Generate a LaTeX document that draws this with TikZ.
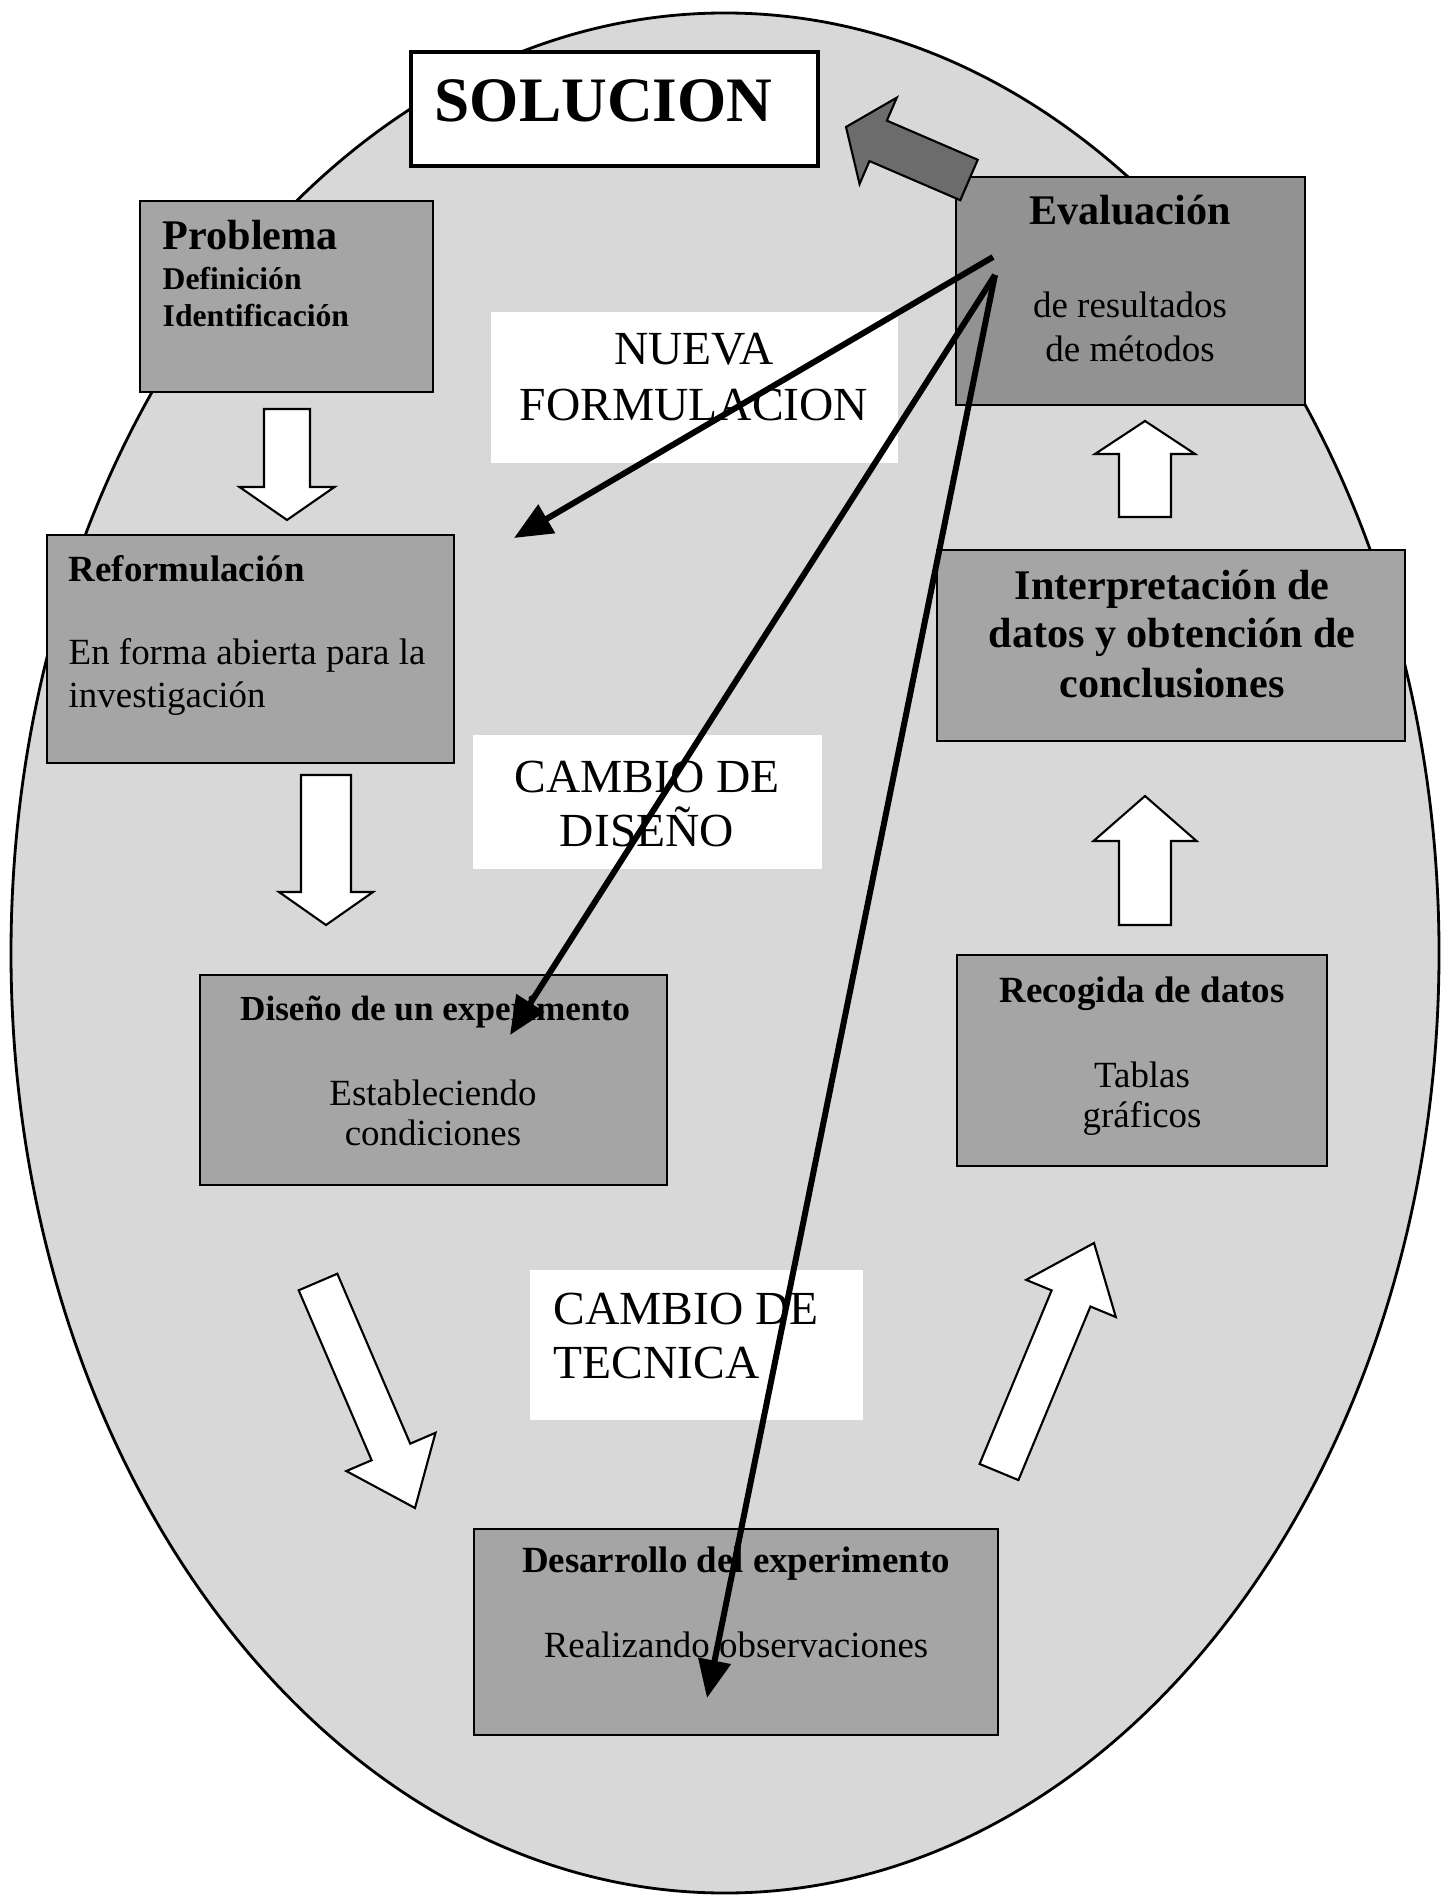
\documentclass[tikz,border=0pt]{standalone}
\usepackage{fontspec}
\setmainfont{Liberation Serif}
\usepackage{tikz}
\usetikzlibrary{arrows.meta, calc, positioning}
\definecolor{ovalgrey}{RGB}{216,216,216}
\definecolor{boxgrey}{RGB}{165,165,165}
\definecolor{evalgrey}{RGB}{146,146,146}
\definecolor{soldark}{RGB}{108,108,108}
\tikzset{
  stage/.style={rectangle, draw=black, fill=boxgrey, line width=0.6pt, inner sep=0pt},
  tag/.style={rectangle, fill=white, inner sep=0pt},
  ttl/.style={inner sep=0pt, anchor=base, font=\fontsize{10.5}{12}\selectfont\bfseries},
  bigttl/.style={inner sep=0pt, anchor=base, font=\fontsize{12}{14}\selectfont\bfseries},
  txt/.style={inner sep=0pt, anchor=base, font=\fontsize{10.5}{12}\selectfont},
  tagtxt/.style={inner sep=0pt, anchor=base, font=\fontsize{13.5}{16}\selectfont},
  fat/.style={draw=black, fill=white, line width=0.6pt, line join=miter},
  back/.style={-{Triangle[length=3.8mm,width=3.2mm]}, line width=1.7pt}
}
% block arrow: style, tail, tip, half shaft, half head, head length
\newcommand{\fatarrow}[6]{%
  \draw[#1] ($(#2)!#4!90:(#3)$) -- ($(#3)!#6!(#2)!#4!90:(#3)$)
    -- ($(#3)!#6!(#2)!#5!90:(#3)$) -- (#3)
    -- ($(#3)!#6!(#2)!#5!-90:(#3)$) -- ($(#3)!#6!(#2)!#4!-90:(#3)$)
    -- ($(#2)!#4!-90:(#3)$) -- cycle;}

\begin{document}
\begin{tikzpicture}[x=0.01cm, y=-0.01cm]
  \useasboundingbox (0,0) rectangle (1441,1895);
  % Oval
  \draw[fill=ovalgrey, line width=0.8pt] (725,953) ellipse [x radius=714, y radius=940];

  % White block arrows
  \coordinate (a1s) at (287,409);  \coordinate (a1e) at (287,520);
  \coordinate (a2s) at (326,775);  \coordinate (a2e) at (326,925);
  \coordinate (a3s) at (318,1282); \coordinate (a3e) at (415,1508);
  \coordinate (a4s) at (999,1472); \coordinate (a4e) at (1094,1243);
  \coordinate (a5s) at (1145,925); \coordinate (a5e) at (1145,796);
  \coordinate (a6s) at (1145,517); \coordinate (a6e) at (1145,421);
  \fatarrow{fat}{a1s}{a1e}{0.23cm}{0.475cm}{0.33cm}
  \fatarrow{fat}{a2s}{a2e}{0.25cm}{0.47cm}{0.33cm}
  \fatarrow{fat}{a3s}{a3e}{0.21cm}{0.485cm}{0.61cm}
  \fatarrow{fat}{a4s}{a4e}{0.21cm}{0.485cm}{0.6cm}
  \fatarrow{fat}{a5s}{a5e}{0.26cm}{0.515cm}{0.45cm}
  \fatarrow{fat}{a6s}{a6e}{0.26cm}{0.5cm}{0.33cm}

  % Stages
  \node (sol) at (614.5,109) [stage, fill=white, line width=1pt, minimum width=4.07cm, minimum height=1.14cm] {};
  \node (prob) at (286.5,296.5) [stage, minimum width=2.93cm, minimum height=1.91cm] {};
  \node (eval) at (1130.5,291) [stage, fill=evalgrey, minimum width=3.49cm, minimum height=2.28cm] {};
  \node (ref) at (250.5,649) [stage, minimum width=4.07cm, minimum height=2.28cm] {};
  \node (inter) at (1171,645.5) [stage, minimum width=4.68cm, minimum height=1.91cm] {};
  \node (dis) at (433.5,1080) [stage, minimum width=4.67cm, minimum height=2.1cm] {};
  \node (rec) at (1142,1060.5) [stage, minimum width=3.7cm, minimum height=2.11cm] {};
  \node (des) at (736,1632) [stage, minimum width=5.24cm, minimum height=2.06cm] {};

  % Labels of the loops
  \node (lnueva) at (694.5,387.5) [tag, minimum width=4.07cm, minimum height=1.51cm] {};
  \node (ldis) at (647.5,802) [tag, minimum width=3.49cm, minimum height=1.34cm] {};
  \node (ltec) at (696.5,1345) [tag, minimum width=3.33cm, minimum height=1.5cm] {};

  % Texts
  \node (solt) at (434,122) [anchor=base west, inner sep=0pt, font=\fontsize{18}{20}\selectfont\bfseries] {SOLUCION};
  \node (probt) at (162,250) [bigttl, anchor=base west] {Problema};
  \node (probd) at (162,290) [ttl, anchor=base west, font=\fontsize{9}{10.5}\selectfont\bfseries] {Definición};
  \node (probi) at (162,327) [ttl, anchor=base west, font=\fontsize{9}{10.5}\selectfont\bfseries] {Identificación};
  \node (evalt) at (1130,225) [bigttl] {Evaluación};
  \node (evalr) at (1130,318) [txt] {de resultados};
  \node (evalm) at (1130,362) [txt] {de métodos};
  \node (reft) at (68,582) [ttl, anchor=base west] {Reformulación};
  \node (refa) at (68,665) [txt, anchor=base west] {En forma abierta para la};
  \node (refi) at (68,708) [txt, anchor=base west] {investigación};
  \node (intera) at (1172,600) [bigttl] {Interpretación de};
  \node (interb) at (1172,648) [bigttl] {datos y obtención de};
  \node (interc) at (1172,697) [bigttl] {conclusiones};
  \node (dist) at (435,1020) [ttl, font=\fontsize{10}{12}\selectfont\bfseries] {Diseño de un experimento};
  \node (disa) at (433,1105) [txt] {Estableciendo};
  \node (disb) at (433,1145) [txt] {condiciones};
  \node (rect) at (1142,1002) [ttl] {Recogida de datos};
  \node (reca) at (1142,1087) [txt] {Tablas};
  \node (recb) at (1142,1127) [txt] {gráficos};
  \node (dest) at (736,1572) [ttl] {Desarrollo del experimento};
  \node (desa) at (736,1657) [txt] {Realizando observaciones};
  \node (lnuevaa) at (694,365) [tagtxt] {NUEVA};
  \node (lnuevab) at (694,421) [tagtxt] {FORMULACION};
  \node (ldisa) at (647,792) [tagtxt] {CAMBIO DE};
  \node (ldisb) at (647,846) [tagtxt] {DISEÑO};
  \node (lteca) at (553,1324) [tagtxt, anchor=base west] {CAMBIO DE};
  \node (ltecb) at (553,1378) [tagtxt, anchor=base west] {TECNICA};

  % Arrow to the solution
  \coordinate (solst) at (969,180); \coordinate (solend) at (846,127);
  \fatarrow{fat, fill=soldark}{solst}{solend}{0.22cm}{0.47cm}{0.35cm}

  % Feedback arrows
  \coordinate (src1) at (993,257); \coordinate (src2) at (995,275);
  \coordinate (tip1) at (514,538); \coordinate (tip2) at (510,1035);
  \coordinate (tip3) at (707,1698);
  \draw[back] (src1) -- (tip1);
  \draw[back] (src2) -- (tip2);
  \draw[back] (src2) -- (tip3);
\end{tikzpicture}
\end{document}
